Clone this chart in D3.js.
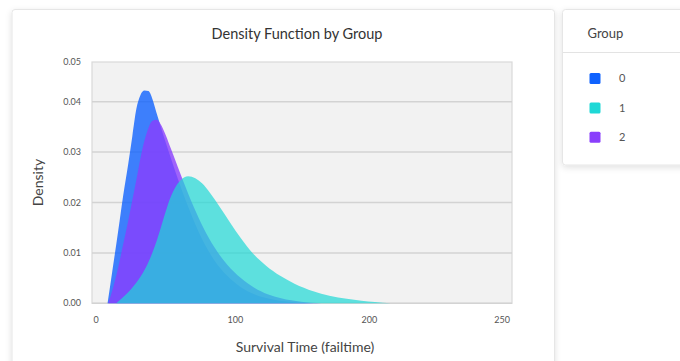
<!DOCTYPE html>
<html>
<head>
<meta charset="utf-8">
<script src="https://cdn.jsdelivr.net/npm/d3@7"></script>
<style>
  body { margin: 0; background: #ffffff; font-family: Lato, "Open Sans", sans-serif; }
</style>
</head>
<body>
<div id="maincontainer"></div>
<script>
// data
const groups = ["0", "1", "2"];
const groupColors = ["#0f62fe", "#1ed8d6", "#8a3ffc"];
const drawOrder = ["0", "2", "1"];

const time0 = [10.5, 14, 18.5, 22, 26, 29, 32, 35, 38, 41, 44, 47, 50, 55, 61, 70, 80, 90, 100, 110, 120, 135, 150, 165];
const density0 = [0, 0.0063, 0.0145, 0.0211, 0.0278, 0.0332, 0.0386, 0.0413, 0.0422, 0.0421, 0.0405, 0.0378, 0.0352, 0.031, 0.0262, 0.0196, 0.0133, 0.0086, 0.0054, 0.0032, 0.0018, 0.0007, 0.0002, 0];

const time1 = [17, 22, 28, 33.4, 40, 46, 50, 54, 57, 61, 65, 70.7, 76, 81, 87, 94, 102, 110, 119, 129, 139, 150, 164, 176, 189, 200, 210, 222];
const density1 = [0, 0.0012, 0.0028, 0.0046, 0.0076, 0.0115, 0.0148, 0.0183, 0.0207, 0.023, 0.0244, 0.0252, 0.0248, 0.0238, 0.0219, 0.0192, 0.016, 0.0129, 0.0099, 0.0074, 0.0055, 0.0039, 0.0024, 0.0015, 0.0009, 0.0005, 0.00025, 0];

const time2 = [11, 14, 18.5, 22, 26, 32, 37, 41, 44, 47, 50, 54, 58, 63, 67, 75, 82, 90, 100, 110, 120, 130, 140, 155, 170];
const density2 = [0, 0.0025, 0.0072, 0.0115, 0.0165, 0.0245, 0.0312, 0.0348, 0.0362, 0.0364, 0.0356, 0.0333, 0.0305, 0.027, 0.0242, 0.019, 0.015, 0.0112, 0.0076, 0.005, 0.0031, 0.0018, 0.001, 0.0003, 0];

const xTicks = [0, 100, 200, 250];
const yTicks = [0, 0.01, 0.02, 0.03, 0.04, 0.05];

const series = {
  "0": d3.zip(time0, density0),
  "1": d3.zip(time1, density1),
  "2": d3.zip(time2, density2)
};

let width = 680;
let height = 361;
let plot = {left: 92, right: 512, top: 62, bottom: 303.3};

let svg = d3.select("#maincontainer")
  .append("svg")
  .attr("width", width)
  .attr("height", height);

let defs = svg.append("defs");
let shadow = defs.append("filter").attr("id", "shadow")
  .attr("x", "-10%").attr("y", "-10%").attr("width", "120%").attr("height", "130%");
shadow.append("feDropShadow")
  .attr("dx", 0).attr("dy", 2).attr("stdDeviation", 3)
  .attr("flood-color", "#000").attr("flood-opacity", 0.12);

// cards
svg.append("rect")
  .attr("x", 12).attr("y", 9.5).attr("width", 542.5).attr("height", 380)
  .attr("rx", 3)
  .attr("fill", "#fff").attr("stroke", "#e6e6e6")
  .attr("filter", "url(#shadow)");

svg.append("rect")
  .attr("x", 562.5).attr("y", 9.5).attr("width", 140).attr("height", 155.5)
  .attr("rx", 3)
  .attr("fill", "#fff").attr("stroke", "#e6e6e6")
  .attr("filter", "url(#shadow)");

// scales
let x = d3.scaleLinear()
  .domain([(plot.left - 93.5) / 1.34, (plot.right - 93.5) / 1.34])
  .range([plot.left, plot.right]);

let y = d3.scaleLinear()
  .domain([0, (plot.bottom - plot.top) / 5040])
  .range([plot.bottom, plot.top]);

let g = svg.append("g").attr("class", "plot");

g.append("rect")
  .attr("x", plot.left).attr("y", plot.top)
  .attr("width", plot.right - plot.left).attr("height", plot.bottom - plot.top)
  .attr("fill", "#f2f2f2")
  .attr("stroke", "#d9d9d9").attr("stroke-width", 1.2);

g.selectAll(".grid")
  .data(yTicks.filter(d => y(d) > plot.top + 1))
  .enter()
  .append("line")
  .attr("class", "grid")
  .attr("x1", plot.left).attr("x2", plot.right)
  .attr("y1", d => y(d)).attr("y2", d => y(d))
  .attr("stroke", "#d3d3d3").attr("stroke-width", 1.5);

// areas
let area = d3.area()
  .x(d => x(d[0]))
  .y0(y(0))
  .y1(d => y(d[1]))
  .curve(d3.curveMonotoneX);

g.selectAll(".density")
  .data(drawOrder)
  .enter()
  .append("path")
  .attr("class", "density")
  .attr("d", k => area(series[k]))
  .attr("fill", k => groupColors[groups.indexOf(k)])
  .attr("fill-opacity", k => k === "1" ? 0.7 : 0.8);

// y tick labels (top label pinned to the plot edge)
g.selectAll(".ylab")
  .data(yTicks)
  .enter()
  .append("text")
  .attr("class", "ylab")
  .attr("x", plot.left - 11)
  .attr("y", d => Math.max(y(d), plot.top))
  .attr("dy", "0.35em")
  .attr("text-anchor", "end")
  .attr("font-size", 9)
  .attr("fill", "#555")
  .text(d3.format(".2f"));

// x tick labels (last label pinned to the plot edge)
g.selectAll(".xlab")
  .data(xTicks)
  .enter()
  .append("text")
  .attr("class", "xlab")
  .attr("x", (d, i) => i === xTicks.length - 1 ? plot.right - 2 : x(d))
  .attr("y", 320)
  .attr("dy", "0.35em")
  .attr("text-anchor", (d, i) => i === xTicks.length - 1 ? "end" : "start")
  .attr("font-size", 9)
  .attr("fill", "#555")
  .text(d => d);

// titles
svg.append("text")
  .attr("x", 297).attr("y", 33.5).attr("dy", "0.35em")
  .attr("text-anchor", "middle")
  .attr("font-size", 14.5).attr("fill", "#333")
  .text("Density Function by Group");

svg.append("text")
  .attr("x", 305).attr("y", 347).attr("dy", "0.35em")
  .attr("text-anchor", "middle")
  .attr("font-size", 14).attr("fill", "#444")
  .text("Survival Time (failtime)");

svg.append("text")
  .attr("transform", "translate(38,182.5) rotate(-90)")
  .attr("dy", "0.35em")
  .attr("text-anchor", "middle")
  .attr("font-size", 14).attr("fill", "#444")
  .text("Density");

// legend
let legend = svg.append("g").attr("class", "legend");

legend.append("text")
  .attr("x", 587.5).attr("y", 33.5).attr("dy", "0.35em")
  .attr("font-size", 13).attr("fill", "#444")
  .text("Group");

legend.append("line")
  .attr("x1", 563).attr("x2", 680)
  .attr("y1", 52.5).attr("y2", 52.5)
  .attr("stroke", "#e3e3e3");

let items = legend.selectAll(".item")
  .data(groups)
  .enter()
  .append("g")
  .attr("class", "item")
  .attr("transform", (d, i) => "translate(0," + (78.5 + i * 29.4) + ")");

items.append("rect")
  .attr("x", 589.5).attr("y", -5.5)
  .attr("width", 11).attr("height", 11)
  .attr("rx", 1.5)
  .attr("fill", (d, i) => groupColors[i]);

items.append("text")
  .attr("x", 619).attr("dy", "0.35em")
  .attr("font-size", 11).attr("fill", "#555")
  .text(d => d);
</script>
</body>
</html>
